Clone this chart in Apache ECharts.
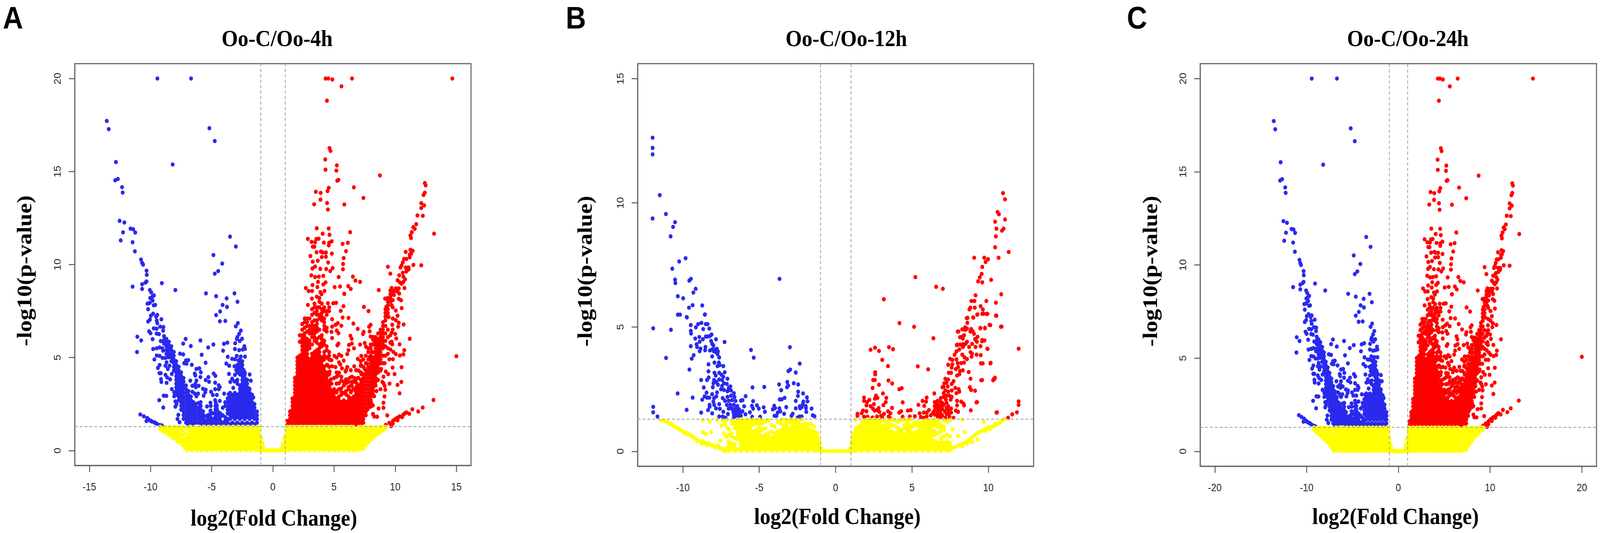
<!DOCTYPE html>
<html>
<head>
<meta charset="utf-8">
<title>Volcano plots</title>
<script src="https://cdn.jsdelivr.net/npm/echarts@6/dist/echarts.min.js"></script>
<style>
  html, body { margin: 0; padding: 0; background: #fff; overflow: hidden; }
  #chart { width: 4562px; height: 1365px; transform-origin: 0 0; }
</style>
</head>
<body>
<div id="chart"></div>
<script>
// tick labels
const xTicksA = [-15, -10, -5, 0, 5, 10, 15];
const xTicksB = [-10, -5, 0, 5, 10];
const xTicksC = [-20, -10, 0, 10, 20];
const yTicksAC = [0, 5, 10, 15, 20];
const yTicksB = [0, 5, 10, 15];
const foldCutoffs = [-1, 1];
const pCutoff = 1.301;

// Oo-4h and Oo-24h show the same genes, only one point moves (see outlier arrays)
// sparse points are [x, y], dense parts are columns [x, y, y, ...]
const blueSparse4h = [[-9.44,20],[-6.69,20],[-13.58,17.72],[-13.42,17.28],[-5.19,17.33],[-4.75,16.64],[-12.83,15.51],[-8.19,15.38],[-12.89,14.53],[-12.67,14.6],[-12.33,14.16],[-12.28,13.87],[-12.53,12.35],[-12.14,12.26],[-11.64,11.93],[-11.42,11.9],[-11.25,11.72],[-12.25,11.73],[-12.44,11.3],[-11.47,11.2],[-11.28,10.71],[-10.78,10.27],[-10.69,10.09],[-10.61,10],[-10.33,9.67],[-10.31,9.45],[-10.33,9.09],[-10.42,9.03],[-10.69,8.94],[-10.69,8.69],[-11.47,8.81],[-9.08,9],[-7.97,8.63],[-3.5,11.5],[-3.03,10.97],[-4.86,10.51],[-4.14,10.05],[-4.47,9.65],[-4.75,9.51],[-5.47,8.45],[-3.14,8.45],[-4.64,8.3],[-3.78,8.18],[-2.89,8],[-4.11,7.83],[-3.75,7.72],[-4.31,7.48],[-4.64,7.28],[-4.33,6.95],[-3.89,6.97],
[-10.06,8.63],[-9.94,8.5],[-9.86,8.27],[-10.03,8.2],[-9.83,8.06],[-9.72,8.34],[-10.25,7.9],[-10.06,7.94],[-9.74,7.81],[-9.62,7.83],[-10.2,7.6],[-9.79,7.36],[-9.98,7.25],[-9.45,7.29],[-9.55,7.2],[-9.12,7.06],[-10.05,7.04],[-10.2,6.94],[-9.5,6.99],[-9.45,6.85],[-9.74,6.57],[-9.5,6.55],[-9.21,6.66],[-8.95,6.64],[-8.97,6.45],[-10.12,6.41],[-10,6.31],[-9.5,6.29],[-9.31,6.26],[-11.08,6.12],[-10.77,5.92],[-11.11,5.3],[-9.83,5.99],
[-7.13,6],[-7.33,5.75],[-6.71,5.62],[-5.92,5.92],[-5.29,5.54],[-4.86,5.7],[-4,5.74],[-3.72,5.8],[-4.07,5.37],[-5.82,5.15],[-5.5,4.72],[-7.59,5.21],[-7.33,5.17],[-6.92,4.86],[-7.11,4.84],[-7.25,4.7],[-7.06,4.67],[-6.63,4.61],[-6.25,4.39],[-6.01,4.42],[-5.89,4.21],[-6.39,4.14],[-6.34,4.04],[-5.92,3.95],[-6.75,3.76],[-6.25,3.76],[-6.34,3.58],[-6.58,3.48],[-6.06,3.48],[-6.3,3.41],[-6.58,3.16],[-6.39,3.06],[-6.11,3.06],[-6.25,2.92],[-5.72,3.32],[-5.49,3.27],[-5.53,3.13],[-5.66,2.95],[-5.5,3.79],[-5.27,3.95],[-5.22,3.7],[-4.84,4.14],[-4.7,4.02],[-4.72,3.65],[-4.43,3.51],[-4.34,3.41],[-4.72,3.3],[-4.43,3.3],[-5.05,3.16],[-4.91,2.99],[-4.58,2.99],[-3.98,3.06],[-5.39,2.37],[-5.1,2.57],[-5.08,2.4],[-4.72,2.71],[-4.34,2.67],[-4.58,2.43],[-4.67,2.57],[-4.58,2.26],[-5.1,2.15],
[-8.93,2.95],[-8.71,2.94],[-9.29,2.71],[-8.96,2.31],[-9.17,4.16],[-9.27,4.16],[-9.15,3.84],[-9.12,3.69],[-8.69,3.64],[-8.78,4.07],[-8.64,3.93],[-8.26,4.12],[-8.4,3.83],[-9.26,4.6],[-9.4,4.44],[-8.69,4.74],[-8.45,4.56],[-8.78,4.56],[-8.59,4.39],[-9.69,4.9],[-9.5,5.11],[-9.26,5.09],[-9.02,4.98],[-8.78,4.98],[-8.54,5.02],[-9.79,5.46],[-9.5,5.5],[-9.26,5.54],[-9.02,5.5],[-8.97,5.37],[-8.59,5.5],[-9.17,5.89],[-8.93,5.82],[-8.26,3.3],[-8.07,3.13],[-8.07,2.92],[-7.97,2.64],[-7.87,2.5],[-7.97,2.36],[-7.73,1.92],[-7.8,1.7],[-7.63,1.52],[-7.06,1.49],
[-10.84,1.94],[-10.55,1.84],[-10.27,1.75],[-10.34,1.59],[-10.07,1.63],[-9.88,1.56],[-9.69,1.52],[-9.5,1.45],[-9.26,1.38],[-9.07,1.35],[-10.17,1.68],[-9.98,1.6],[-9.6,1.48],
[-2.86,6.85],[-3.03,6.68],[-2.62,6.45],[-2.76,6.27],[-2.9,6.1],[-2.95,6],[-2.52,6.01],[-2.71,5.89],[-3.08,5.77],[-2.33,5.61],[-2.28,5.47],[-2.47,5.43],[-2.76,5.4],[-3.1,5.46],[-3.69,5.04],[-2.28,5.05],[-2.95,5.09],[-2.62,5.05],[-3.33,4.93],[-3.1,4.91],[-2.81,4.84],[-3.81,4.68],[-3.57,4.56],[-3.14,4.53],[-3,4.32],[-2.38,4.32],[-2.28,4.18],[-1.9,4.09],[-3.59,4.12],[-3.1,4.07],[-3.33,3.86],[-3.48,3.69],[-3.14,3.72],[-1.8,3.76],[-3.24,3.37],[-1.95,3.34],[-3.62,3.03],[-3.29,2.99],[-1.6,2.86]];
const blueDense4h = [
[-8.9,6.15,5.95,5.75],[-8.7,6,5.8,5.6,5.4,5.2],[-8.5,5.85,5.65,5.45,5.25,5.05],[-8.3,5.6,5.4,5.2,5,4.8],[-8.1,5.3,5.1,4.9,4.7,4.5,4.3],
[-7.9,4.8,4.6,4.4,4.2,4,3.8,3.6,3.4,3.2,3],[-7.7,4.5,4.3,4.1,3.9,3.7,3.5,3.3,3.1,2.9,2.7],[-7.5,4.2,4,3.8,3.6,3.4,3.2,3,2.8,2.6,2.4,2.2],[-7.3,3.9,3.7,3.5,3.3,3.1,2.9,2.7,2.5,2.3,2.1,1.9,1.7],
[-7.1,3.5,3.3,3.1,2.9,2.7,2.5,2.3,2.1,1.9,1.7,1.5],[-6.9,3.2,3,2.8,2.6,2.4,2.2,2,1.8,1.6,1.4],[-6.7,2.9,2.7,2.5,2.3,2.1,1.9,1.7,1.5],[-6.5,2.6,2.4,2.2,2,1.8,1.6,1.42],[-6.3,2.5,2.3,2.1,1.9,1.7,1.5],[-6.1,2.55,2.3,2.1,1.9,1.7,1.5],[-5.9,2.6,2.4,2.2,2,1.8,1.6,1.42],[-5.7,2.1,1.9,1.7,1.5],[-5.5,1.85,1.6,1.42],[-5.3,1.9,1.7,1.5],[-5.1,2,1.8,1.6,1.42],[-4.9,2,1.7,1.5],[-4.7,2.4,2.2,2,1.8,1.6,1.42],[-4.5,2.1,1.9,1.7,1.5],[-4.3,2,1.8,1.6,1.42],[-4.1,2.3,1.9,1.5],[-3.9,2.6,2.4,1.8,1.6,1.42],[-3.7,2.8,2.6,2.4,2.2,2,1.7,1.5],
[-3.5,3.1,2.9,2.7,2.5,2.3,2.1,1.9,1.7,1.42],[-3.3,3,2.8,2.6,2.4,2.2,2,1.8,1.5],[-3.1,3.1,2.9,2.7,2.5,2.3,2.1,1.9,1.7,1.42],
[-2.9,4.6,4.4,4.2,3.8,3.6,3,2.8,2.6,2.4,2.2,2,1.8,1.5],[-2.7,4.9,4.7,4.5,4.3,4.1,3.5,3.3,3.1,2.9,2.7,2.5,2.3,2.1,1.9,1.7,1.42],[-2.5,4.8,4.6,4.4,4.2,4,3.8,3.6,3.4,3.2,3,2.8,2.6,2.4,2.2,2,1.8,1.5],[-2.3,4.1,3.9,3.7,3.5,3.3,3.1,2.9,2.7,2.5,2.3,2.1,1.9,1.7,1.42],[-2.1,3.8,3.6,3.4,3.2,3,2.8,2.6,2.4,2.2,2,1.8,1.5],[-1.9,3.3,3.1,2.9,2.7,2.5,2.3,2.1,1.9,1.7,1.42],[-1.7,3,2.8,2.6,2.4,2.2,2,1.8,1.5],[-1.5,2.5,2.3,2.1,1.9,1.7,1.42],[-1.3,2.1,1.9,1.7,1.5]];

const redSparse4h = [[4.31,20],[4.53,20],[4.86,19.95],[6.47,20],[14.67,20],[5.61,19.58],[4.42,18.81],
[4.63,16.26],[4.71,16.11],[4.28,15.65],[5.23,15.33],[4.3,15.1],[5.19,15.05],[5.36,14.55],[5.26,14.51],[4.57,14.12],[4.47,13.95],[3.51,13.91],[3.91,13.85],[3.89,13.49],[3.37,13.24],[4.43,13.31],[4.5,12.96],[5.84,13.23],[6.62,14.15],[7.4,13.58],[8.75,14.79],
[12.42,14.38],[12.49,14.26],[12.42,13.86],[12.32,13.74],[12.13,13.3],[12.37,13.18],[12.13,13.04],[11.82,12.64],[12.26,12.62],[11.72,12.17],[11.48,12.01],[11.6,11.92],[11.36,11.74],[11.24,11.57],[11.29,11.43],[13.18,11.66],
[3.59,11.95],[4.56,11.94],[4.07,11.66],[4.63,11.6],[6.32,11.74],[2.86,11.38],[3.55,11.37],[3.74,11.39],[3.16,11.22],[3.45,11.2],[4.17,11.18],[4.81,11.25],[4.6,11.17],[4.57,11.03],[3.26,10.96],[3.4,10.96],[5.7,11.11],[6.13,11.17],[5.98,10.72],
[3.57,10.66],[3.93,10.7],[4.34,10.65],[4.82,10.59],[4.07,10.65],[3.07,10.46],[4,10.4],[4.33,10.42],[5.79,10.35],[3.26,10.16],[3.67,10.21],[4.52,10.11],[5.74,10.03],[3.45,9.89],[3.23,9.79],[3.88,9.77],[4.36,9.76],[4.88,9.81],[4.69,9.65],[5.73,9.75],
[3.14,9.42],[3.45,9.33],[3.76,9.35],[4.12,9.39],[5.38,9.33],[6.54,9.35],[6.75,9.14],[7.13,9.07],[3.69,9.07],[4.31,9.04],[3.24,8.9],[4.12,8.93],[3.64,8.79],[2.69,8.74],[5.05,8.79],[5.49,8.82],[6.16,8.84],[6.37,8.69],[8.66,8.63],[2.92,8.58],[3.21,8.58],[4.22,8.58],[3.88,8.52],[5.84,8.42],
[9.4,9.88],[9.6,9.51],[11.49,9.98],[12.13,9.96],[10.86,10.68],[11.24,10.79],[11.43,10.74],[11.19,10.54],[11.3,10.58],[11.19,10.39],[10.72,10.3],[10.91,10.3],[10.62,10.12],[10.52,9.95],[10.43,9.84],[10.86,9.84],[11.1,9.84],[11.1,9.74],[10.91,9.63],[10.62,9.56],[10.33,9.42],[10.67,9.35],[10.81,9.21],[10.19,9.16],[10.67,9.07],[10.38,9.04],[10.52,8.97],[10.76,8.74],[10.29,8.72],[10.05,8.72],[9.71,8.74],[9.9,8.55],[10.19,8.55],[9.71,8.38],
[2.86,7.83],[3.19,8.17],[3.59,8.27],[3.98,8.41],[5.84,8.43],[4.5,7.92],[4.93,7.92],[5.17,7.94],[5.77,7.76],[5.55,7.51],[5.7,7.15],[6.18,7.13],[4.84,7.06],[5.31,6.85],[5.6,6.71],[5.12,6.76],[4.84,6.66],[6.58,6.83],[6.94,6.54],[5.22,6.45],[5.36,6.31],[4.79,6.38],[4.84,6.05],[7.44,7.72],[7.82,7.5],[9.17,8.17],[9.28,7.74],[10.48,8.08],[10.53,7.66],[10.69,6.78],[7.99,6.76],[7.87,6.66],[7.91,6.41],[7.42,6.38],[7.37,6.27],[11.19,6.01],[6.34,6.17],[6.44,6.01],[7.99,6.13],[8.18,5.96],[7.51,5.78],[7.61,5.58],[7.13,5.7],[8.28,5.75],[5.36,5.75],[5.27,5.66],[6.22,5.68],[6.46,5.75],[6.63,5.5],[6.18,5.4],[6.08,5.19],[10.36,5.71],[10.74,5.4],[10.67,5.17],[10.38,5.11],[7.23,5.09],[6.94,4.93],[7.18,4.81],[7.18,4.56],[9.79,4.46],[10.52,4.48],[9.95,4.11],[10.5,3.69],[10.19,3.53],[9.54,3.6],[10.36,3.08],[9.12,2.91],[9.04,2.57],[8.64,2.26],[9.04,2.3],[9.35,1.89],[8.52,1.82],[13.13,2.72],[12.25,2.31],[11.88,2.1],[11.4,2.22],
[11.15,1.98],[10.91,2.05],[10.67,1.94],[10.38,1.84],[10.09,1.73],[9.81,1.59],[9.52,1.49],[9.23,1.38],[9.66,1.31],[9.81,1.45],[10.19,1.63],[10.57,1.8],[10.8,2],[10.25,1.78],[9.95,1.66],
[5.41,5.16],[5.6,5.09],[5.79,4.84],[5.03,5.09],[4.79,4.86],[5.51,4.63],[4.84,4.53],[5.12,4.49],[5.65,4.42],[5.94,4.25],[6.08,4.49],[6.37,4.32],[6.65,4.53],[6.8,4.32],[5.31,4.04],[5.6,3.97],[4.74,3.83],[5.98,3.83],[6.46,3.97],[6.65,3.9],[5.79,3.69],[6.18,3.69],[6.46,3.69],[6.84,3.62],[5.41,3.62],[4.65,3.34],[5.6,3.34],[6.18,3.41],[6.46,3.48],
[4.65,4.88],[4.45,4.6],[4.65,4.25],[4.45,4.04],[4.6,3.48],[5.22,5],[5.41,4.74],[5.98,4.32],[5.41,4.18],[5.22,3.97],[5.6,3.76],[5.98,3.62],[6.27,3.9],[6.37,3.48],[6.75,3.76],[6.94,3.9],[7.23,4.11],[7.51,4.39],[7.7,4.67],[7.9,5.02],[8.09,5.3],[7.32,3.48],[7.04,3.34],[6.75,3.2],[6.37,3.13],[5.98,3.2],[5.6,3.13],[5.22,3.13],[4.84,3],[4.45,2.99],
[9.04,3.62],[9.14,3.48],[9.19,3.27],[8.8,3.3],[8.95,3.69],[8.47,3.2],[8.28,2.92],[8.04,2.57],[8.18,2.43],[7.99,2.36],[8.18,1.97],[8.28,1.83],[7.75,2.22],[9.04,3.97],[9.23,4.25],[9.43,4.11],[8.85,4.39],[9.14,4.7],[9.52,4.91],[9.81,4.91],[9.71,5.85],[9.76,5.71],[10.09,6.03],[9.62,5.43],[9.86,5.3],[10.05,5.19],[9.71,6.34],[10,6.27],[10.05,7.01],[10.29,6.87],[10.24,6.66],[10.05,7.53],[10.19,7.25],[10.29,8.16],[9.76,6.76],[9.47,7.18],[9.71,7.81],[9.8,8.09],[9.9,8.37],[10.33,8.44]];
const redDense4h = [
[1.2,1.4,1.6],[1.4,1.5,1.7,1.9,2.1],[1.6,1.4,1.6,1.8,2,2.2,2.4,2.6,2.8],[1.8,1.5,1.7,1.9,2.1,2.3,2.5,2.7,2.9,3.1,3.3,3.5,3.7,3.9],
[2,1.4,1.6,1.8,2,2.2,2.4,2.6,2.8,3,3.2,3.4,3.6,3.8,4,4.2,4.4,4.6,4.8,5],
[2.2,1.5,1.7,1.9,2.1,2.3,2.5,2.7,2.9,3.1,3.3,3.5,3.7,3.9,4.1,4.3,4.5,4.7,4.9,5.1,5.85,6.2],
[2.4,1.4,1.6,1.8,2,2.2,2.4,2.6,2.8,3,3.2,3.4,3.6,3.8,4,4.2,4.4,4.6,4.8,5,5.2,5.4,5.6,5.8,6,6.2,6.5,6.8],
[2.6,1.5,1.7,1.9,2.1,2.3,2.5,2.7,2.9,3.1,3.3,3.5,3.7,3.9,4.1,4.3,4.5,4.7,4.9,5.1,5.3,5.5,5.7,5.9,6.1,6.3,6.6,6.9,7.1],
[2.8,1.4,1.6,1.8,2,2.2,2.4,2.6,2.8,3,3.2,3.4,3.6,3.8,4,4.2,4.4,4.6,4.8,5,5.2,5.4,5.6,5.8,6,6.4,6.7,6.9,7.1],
[3,1.5,1.7,1.9,2.1,2.3,2.5,2.7,2.9,3.1,3.3,3.5,3.7,3.9,4.1,4.3,4.5,4.7,4.9,5.5,5.7,5.9,6.3,6.5,6.7,7.1],
[3.2,1.4,1.6,1.8,2,2.2,2.4,2.6,2.8,3,3.2,3.4,3.6,3.8,4,4.2,4.4,4.6,4.8,5,5.2,5.7,6.1,6.3,6.5,6.7,6.9,7.3,7.6],
[3.4,1.5,1.7,1.9,2.1,2.3,2.5,2.7,2.9,3.1,3.3,3.5,3.7,3.9,4.1,4.3,4.5,4.7,4.9,5.1,5.3,5.9,6.1,6.3,6.5,6.7,7,7.4,7.7,7.9],
[3.6,1.4,1.6,1.8,2,2.2,2.4,2.6,2.8,3,3.2,3.4,3.6,3.8,4,4.2,4.4,4.6,4.8,5,5.2,5.4,5.8,6,6.4,6.6,6.8,7,7.3,7.5,7.7],
[3.8,1.5,1.7,1.9,2.1,2.3,2.5,2.7,2.9,3.1,3.3,3.5,3.7,3.9,4.1,4.3,4.5,4.7,4.9,5.1,5.3,5.5,5.7,6.1,6.5,7.1,7.3,7.7,8,8.2],
[4,1.4,1.6,1.8,2,2.2,2.4,2.6,2.8,3,3.2,3.4,3.6,3.8,4,4.2,4.4,4.6,4.8,5,5.6,5.8,6,6.2,7,7.2,7.4,7.6,7.9],
[4.2,1.5,1.7,1.9,2.1,2.3,2.5,2.7,2.9,3.1,3.3,3.5,3.7,3.9,4.1,4.3,4.5,4.9,5.1,5.3,5.7,5.9,6.5,6.7,6.9,7.1,7.5,7.7],
[4.4,1.4,1.6,1.8,2,2.2,2.4,2.6,2.8,3,3.2,3.4,3.6,3.8,4,4.2,4.6,5,5.4,5.6,6.4,6.6,7.3,7.5],
[4.6,1.5,1.7,1.9,2.1,2.3,2.5,2.7,2.9,3.1,3.3,3.5,3.7,4.1,4.5,4.9,5.1,5.3,7.5,7.7],
[4.8,1.4,1.6,1.8,2,2.2,2.4,2.6,2.8,3,3.2,3.6],[5,1.5,1.7,1.9,2.1,2.3,2.5,2.7,2.9,3.1,3.3,3.9],[5.2,1.4,1.6,1.8,2,2.2,2.4,2.6,2.8,3.2,3.6,4.2],[5.4,1.5,1.7,1.9,2.1,2.3,2.5,2.7,2.9,3.3],[5.6,1.4,1.6,1.8,2,2.2,2.4,2.6,3],[5.8,1.5,1.7,1.9,2.1,2.3,2.5,2.7,3.1,3.5],[6,1.4,1.6,1.8,2,2.2,2.4,2.6,3],[6.2,1.5,1.7,1.9,2.1,2.3,2.5,2.7,2.9,3.3],[6.4,1.4,1.6,1.8,2,2.2,2.4,2.6,2.8,3.2],[6.6,1.5,1.7,1.9,2.1,2.3,2.5,2.7,2.9,3.3,3.7],[6.8,1.4,1.6,1.8,2,2.2,2.4,2.6,2.8,3,3.4],
[7,1.5,1.7,1.9,2.1,2.3,2.5,2.7,2.9,3.1,3.3,3.5,3.9,4.3],[7.2,1.4,1.6,1.8,2,2.2,2.4,2.6,2.8,3,3.2,3.4,3.6,3.8,4.2,4.6],[7.4,1.5,1.7,1.9,2.1,2.3,2.5,2.7,2.9,3.1,3.3,3.5,3.7,3.9,4.1,4.5,4.9],[7.6,1.9,2.1,2.3,2.5,2.7,2.9,3.1,3.3,3.5,3.7,3.9,4.1,4.3,4.7,5.1],[7.8,2.3,2.5,2.7,2.9,3.1,3.3,3.5,3.7,3.9,4.1,4.3,4.5,4.9,5.3,5.5],[8,2.5,2.7,2.9,3.1,3.3,3.5,3.7,3.9,4.1,4.3,4.5,4.7,4.9,5.1,5.5,5.7],[8.2,3,3.2,3.4,3.6,3.8,4,4.2,4.4,4.6,4.8,5,5.3,5.7,6.1],[8.4,3.5,3.7,3.9,4.1,4.3,4.5,4.7,4.9,5.1,5.3,5.5,5.7,5.9,6.1],[8.6,3.8,4.2,4.4,4.6,4.8,5,5.2,5.4,5.6,5.8,6,6.3],[8.8,4.3,4.7,4.9,5.1,5.3,5.5,5.7,5.9,6.1,6.3,6.5],[9,4.7,5.1,5.5,5.7,5.9,6.1,6.3,6.5,6.7,6.9],[9.2,5.1,5.6,5.9,6.3,6.7,7,7.2,7.4,7.6],[9.4,5.2,5.5,6.1,6.5,7.2,7.4,7.6,7.8,8,8.2],[9.6,5.8,6.2,8,8.2,8.4,8.6],[9.8,6.5,7.1,7.7,8.4,8.6]];

const redOutlierA = [[15, 5.07]];
const redOutlierC = [[20, 5.07]];

const yellow4h = [
[-9.2,1.15,1.28],[-9,1.05,1.2],[-8.8,1,1.15,1.28],[-8.6,0.9,1.05,1.2],[-8.4,0.8,0.95,1.1,1.28],[-8.2,0.7,0.85,1,1.2],[-8,0.65,0.8,0.95,1.1,1.28],[-7.8,0.5,0.65,0.8,0.95,1.1,1.25],[-7.6,0.45,0.6,0.75,0.9,1.15],[-7.4,0.3,0.45,0.6,0.85,1.1,1.28],[-7.2,0.15,0.3,0.45,0.65,0.95,1.2],
[-7,0.02,0.2,0.4,0.6,0.8,1.2],[-6.8,0.1,0.3,0.5,0.7,0.9,1.1,1.28],[-6.6,0.02,0.2,0.4,0.6,0.8,1,1.2],[-6.4,0.1,0.3,0.5,0.7,0.9,1.1,1.28],[-6.2,0.02,0.2,0.4,0.6,0.8,1,1.2],[-6,0.1,0.3,0.5,0.7,0.9,1.1,1.28],[-5.8,0.02,0.2,0.4,0.6,0.8,1,1.2],[-5.6,0.1,0.3,0.5,0.7,0.9,1.1,1.28],[-5.4,0.02,0.2,0.4,0.6,0.8,1,1.2],[-5.2,0.1,0.3,0.5,0.7,0.9,1.1,1.28],[-5,0.02,0.2,0.4,0.6,0.8,1,1.2],[-4.8,0.1,0.3,0.5,0.7,0.9,1.1,1.28],[-4.6,0.02,0.2,0.4,0.6,0.8,1,1.2],[-4.4,0.1,0.3,0.5,0.7,0.9,1.1,1.28],[-4.2,0.02,0.2,0.4,0.6,0.8,1,1.2],[-4,0.1,0.3,0.5,0.7,0.9,1.1,1.28],[-3.8,0.02,0.2,0.4,0.6,0.8,1,1.2],[-3.6,0.1,0.3,0.5,0.7,0.9,1.1,1.28],[-3.4,0.02,0.2,0.4,0.6,0.8,1,1.2],[-3.2,0.1,0.3,0.5,0.7,0.9,1.1,1.28],[-3,0.02,0.2,0.4,0.6,0.8,1,1.2],[-2.8,0.1,0.3,0.5,0.7,0.9,1.1,1.28],[-2.6,0.02,0.2,0.4,0.6,0.8,1,1.2],[-2.4,0.1,0.3,0.5,0.7,0.9,1.1,1.28],[-2.2,0.02,0.2,0.4,0.6,0.8,1,1.2],[-2,0.1,0.3,0.5,0.7,0.9,1.1,1.28],[-1.8,0.02,0.2,0.4,0.6,0.8,1,1.2],[-1.6,0.1,0.3,0.5,0.7,0.9,1.1,1.28],[-1.4,0.02,0.2,0.4,0.6,0.8,1,1.2],[-1.2,0.1,0.3,0.5,0.7,0.9,1.1,1.28],[-1.05,0.02,0.2,0.4,0.6,0.8,1.2],[-0.95,0.02,0.2,0.4,0.65],[-0.85,0.02,0.2,0.38],[-0.75,0.02,0.15],[-0.6,0.01],[-0.45,0.01],[-0.3,0.01],[-0.15,0.01],[0,0.01],[0.15,0.01],[0.3,0.01],[0.45,0.01],[0.6,0.01],[0.72,0.02,0.12],[0.82,0.02,0.2,0.35],[0.92,0.02,0.2,0.4,0.65],[1.05,0.02,0.2,0.4,0.6,0.8,1.2],
[1.2,0.1,0.3,0.5,0.7,0.9,1.1,1.28],[1.4,0.02,0.2,0.4,0.6,0.8,1,1.2],[1.6,0.1,0.3,0.5,0.7,0.9,1.1,1.28],[1.8,0.02,0.2,0.4,0.6,0.8,1,1.2],[2,0.1,0.3,0.5,0.7,0.9,1.1,1.28],[2.2,0.02,0.2,0.4,0.6,0.8,1,1.2],[2.4,0.1,0.3,0.5,0.7,0.9,1.1,1.28],[2.6,0.02,0.2,0.4,0.6,0.8,1,1.2],[2.8,0.1,0.3,0.5,0.7,0.9,1.1,1.28],[3,0.02,0.2,0.4,0.6,0.8,1,1.2],[3.2,0.1,0.3,0.5,0.7,0.9,1.1,1.28],[3.4,0.02,0.2,0.4,0.6,0.8,1,1.2],[3.6,0.1,0.3,0.5,0.7,0.9,1.1,1.28],[3.8,0.02,0.2,0.4,0.6,0.8,1,1.2],[4,0.1,0.3,0.5,0.7,0.9,1.1,1.28],[4.2,0.02,0.2,0.4,0.6,0.8,1,1.2],[4.4,0.1,0.3,0.5,0.7,0.9,1.1,1.28],[4.6,0.02,0.2,0.4,0.6,0.8,1,1.2],[4.8,0.1,0.3,0.5,0.7,0.9,1.1,1.28],[5,0.02,0.2,0.4,0.6,0.8,1,1.2],[5.2,0.1,0.3,0.5,0.7,0.9,1.1,1.28],[5.4,0.02,0.2,0.4,0.6,0.8,1,1.2],[5.6,0.1,0.3,0.5,0.7,0.9,1.1,1.28],[5.8,0.02,0.2,0.4,0.6,0.8,1,1.2],[6,0.1,0.3,0.5,0.7,0.9,1.1,1.28],[6.2,0.02,0.2,0.4,0.6,0.8,1,1.2],[6.4,0.1,0.3,0.5,0.7,0.9,1.15,1.28],[6.6,0.02,0.2,0.4,0.6,0.8,1,1.25],[6.8,0.04,0.3,0.5,0.7,0.85,1.1],[7,0.06,0.2,0.4,0.6,0.8,1,1.2],[7.2,0.08,0.3,0.5,0.7,0.9,1.1,1.28],[7.4,0.1,0.25,0.4,0.6,0.8,1,1.2],
[7.6,0.3,0.45,0.65,0.9,1.1,1.28],[7.8,0.45,0.6,0.75,0.95,1.2],[8,0.55,0.7,0.85,1,1.15,1.28],[8.2,0.7,0.85,1,1.2],[8.4,0.8,0.95,1.1,1.25],[8.6,0.9,1.05,1.2],[8.8,1,1.15,1.28],[9,1.1,1.25],[9.2,1.2,1.28]];

// Oo-12h
const blueSparse12h = [[-11.98,12.62],[-11.98,12.21],[-11.98,11.95],[-11.51,10.31],[-11.98,9.37],[-11.11,9.55],[-10.51,9.22],[-10.64,9.03],[-10.8,8.65],[-9.82,7.77],[-10.24,7.64],[-10.69,7.35],[-3.67,6.94],[-10.51,6.91],[-10.49,6.77],[-9.47,6.94],[-9.58,6.87],[-9.16,6.54],[-9.31,6.39],[-10.33,6.24],[-9.98,6.16],[-8.73,5.87],[-9.36,5.88],[-9.6,5.78],[-8.56,5.5],[-10.33,5.5],[-10.18,5.5],[-9.73,5.39],
[-11.94,4.95],[-10.78,4.89],[-11.1,3.76],[-9.57,3.29],[-10.34,2.33],[-9.36,2.16],[-9.75,1.67],[-11.66,1.4],[-11.94,1.79],[-11.94,1.57],[-9.75,5.4],[-8.55,5.51],
[-9.48,5.08],[-9,5.12],[-8.78,5.17],[-8.5,5.12],[-8.38,5.12],[-9.15,4.99],[-8.67,4.92],[-8.27,4.94],[-9.48,4.85],[-9.46,4.74],[-8.12,4.7],[-8.23,4.64],[-8.38,4.62],[-8.5,4.62],[-9.19,4.54],[-8.92,4.6],[-8.69,4.51],[-8.9,4.41],[-7.83,4.51],[-7.27,4.4],[-8.15,4.44],[-8.08,4.33],[-8,4.26],[-9.1,4.31],[-9.07,4.2],[-9.48,4.23],[-8.52,4.2],[-8.84,4.13],[-8.54,4.07],[-8.9,4.03],[-8.23,4.06],[-8.08,4.1],[-7.93,4.1],[-7.77,4.12],[-7.96,4.02],[-7.81,3.99],[-7.7,4.02],[-7.73,3.91],[-7.62,3.78],[-8.08,3.82],[-9.29,3.87],[-9.42,3.73],
[-7.93,3.57],[-7.64,3.57],[-7.58,3.47],[-7.73,3.43],[-7.35,3.43],[-8.32,3.5],[-8.32,3.22],[-7.93,3.16],[-7.62,3.16],[-7.26,3.18],[-7.85,3.05],[-7.47,3.08],[-7.35,3],[-7.08,2.92],[-8.31,2.97],[-8.42,2.87],[-8.8,2.87],[-7.96,2.87],[-7.62,2.89],[-7.43,2.87],[-8,2.74],[-7.81,2.79],[-7.7,2.68],[-7.31,2.74],[-7.12,2.71],[-6.89,2.61],[-7,2.55],[-8.04,2.58],[-8.63,2.57],[-7.43,2.63],[-7.5,2.5],[-7.31,2.47],[-7.08,2.42],[-6.85,2.45],[-6.66,2.34],[-8.45,2.36],[-8.58,2.21],[-8.42,2.16],[-8.27,2.16],[-7.76,2.37],[-8.08,2.3],[-7.81,2.21],[-7.96,2.14],[-8.73,2.08],[-7.39,2.14],[-7.08,2.19],[-6.85,2.24],[-6.62,2.19],[-7.24,2.03],[-7,2.03],[-6.78,2.06],[-6.55,2.03],[-8,2],[-8.25,1.87],[-8.25,1.79],[-7.95,1.87],[-7.62,1.9],[-7.12,1.87],[-6.89,1.87],[-6.66,1.87],[-6.43,1.82],[-8.35,1.66],[-7.83,1.73],[-7.58,1.71],[-7,1.72],[-6.78,1.72],[-6.55,1.72],[-6.32,1.69],[-8.8,1.56],[-8.08,1.53],[-7.35,1.59],[-7.05,1.5],[-6.7,1.59],[-6.47,1.56],[-6.24,1.56],[-6.66,1.48],[-6.43,1.45],[-6.2,1.43],[-7.62,1.4],[-7.39,1.4],[-7.2,1.35],[-6.66,1.38],[-6.9,1.75],[-6.6,1.6],[-6.4,1.65],[-6.3,1.42],[-6.55,1.42],
[-5.89,2.22],[-6.09,2.06],[-6.2,2.04],[-5.99,1.81],[-6.1,1.61],[-5.9,1.49],[-5.61,1.57],[-5.46,1.39],[-5.4,2.02],[-5.44,2.57],[-5.54,4.08],[-5.36,3.77],[-4.67,2.59],[-5.48,1.83],[-5.4,1.72],[-5.15,1.85],[-5.03,1.72],[-4.71,1.77],[-4.63,1.59],[-4.94,1.39],[-4.02,1.83],[-4.11,1.69],[-3.96,1.74],[-4,1.43],[-3.87,1.43],[-3.79,1.56],[-3.68,1.73],[-3.62,1.61],[-3.37,1.51],[-3.7,2.69],[-3.56,2.46],[-3.66,2.09],[-3.53,2.09],[-3.34,2.15],[-3.23,1.78],[-3.16,2.79],[-3.1,2.65],[-3.18,2.58],[-2.99,4.19],[-3.09,3.23],[-2.97,3.29],[-2.61,3.17],[-2.35,3.53],[-2.74,2.74],[-2.45,2.69],[-2.45,2.4],[-2.47,2.23],[-2.13,2.33],[-2.61,2.03],[-1.88,2.17],[-1.84,2.01],[-2.11,2],[-2.15,1.9],[-2.35,1.81],[-2.22,1.78],[-1.96,1.82],[-2.61,1.73],[-2.32,1.73],[-1.94,1.74],[-1.92,1.59],[-1.57,1.72],[-2.81,1.51],[-2.89,1.43],[-2.49,1.36],[-2.35,1.4],[-2.22,1.4],[-1.5,1.45],[-1.38,1.41]];

const redSparse12h = [[10.96,10.39],[11.09,10.14],[10.6,9.63],[10.69,9.54],[11.09,9.33],[10.44,9.24],[11,8.96],[10.53,8.96],[10.89,8.88],[10.49,8.65],[10.44,8.21],[11.33,8.02],[9.07,7.79],[9.73,7.79],[9.98,7.73],[10.67,7.79],[9.6,7.42],[9.82,7.62],[9.56,7.14],[9.44,7],[9.33,6.84],[9.6,6.8],[10.18,6.9],[10.84,6.32],[9.16,6.28],[8.89,6.05],[9.09,6.05],[9.87,6.05],[10.49,5.98],[8.82,5.78],[9.11,5.78],[8.76,5.71],[9.49,5.84],[9.64,5.71],[9.6,5.53],[9.87,5.53],[9,5.39],[9.27,5.5],[10.49,5.46],[8.58,5.36],[10.07,5.09],[10.82,5.01],[9.47,4.95],[9.78,4.95],
[5.22,7.01],[6.58,6.62],[7.02,6.54],[3.16,6.12],[11.98,4.13],[11.98,2.01],[11.98,1.87],[11.87,1.57],[11.56,1.49],[10.53,1.56],[11.29,1.35],[10.42,2.93],[10.31,2.86],[9.22,1.97],[9.53,2.86],[10.13,3.54],[9.51,3.54],
[8.49,4.89],[8.04,4.82],[8.27,4.61],[8.82,4.82],[8.6,4.41],[9.16,4.48],[7.93,4.27],[8.38,4.27],[9.16,4.2],[9.6,4.48],[9.93,4.13],[8.93,3.93],
[4.18,5.16],[5.14,5.01],[6.4,4.55],[2.29,4.09],[2.58,4.17],[2.84,4.04],[3.49,4.19],[3.76,4.11],[3.05,3.68],[3.43,3.43],[5.38,3.42],[6.06,3.3],[2.59,3.18],[2.59,3.1],[2.46,2.87],[2.57,2.87],[2.84,2.68],[3.46,2.85],[3.7,2.73],[2.42,2.55],[4.17,2.5],[4.33,2.54],[3.1,2.33],[2.64,2.24],[2.74,2.15],[2.57,2.12],[1.86,2.16],[1.86,2.03],[2.21,2.07],[2.06,1.98],[3.32,2.15],[3.28,1.98],[4.39,1.97],[3.13,1.86],[2.29,1.82],[2.02,1.85],[2.51,1.9],[2.44,1.72],[3.69,1.75],[2.82,1.74],[2.71,1.66],[1.79,1.64],[2.02,1.61],[1.71,1.54],[2.55,1.64],[2.86,1.59],[3.43,1.61],[3.59,1.53],[1.43,1.51],[1.43,1.43],[1.86,1.39],[2.09,1.39],[2.42,1.36],[2.71,1.4],[2.97,1.43],[3.17,1.51],[3.05,1.38],[3.47,1.4],[3.62,1.32],[4.16,1.56],[4.29,1.61],[4.39,1.39],[4.73,1.64],[4.92,1.66],[4.86,1.4],[5.19,1.41],[5.42,1.87],[5.69,2.03],[5.96,2.16],[5.92,2],[5.8,1.83],[5.77,1.56],[5.5,1.53],[5.58,1.38],[5.77,1.35],[5.96,1.56],[6.11,1.66],[5.96,1.4],[6.46,2.33],
[6.23,1.45],[6.38,1.56],[6.49,1.98],[6.49,1.82],[6.49,1.66],[6.49,1.48],[6.68,2.03],[6.68,1.87],[6.68,1.72],[6.68,1.56],[6.68,1.4],[6.88,2.14],[6.88,1.98],[6.88,1.82],[6.88,1.66],[6.88,1.51],[6.88,1.38],[7.07,2.19],[7.07,2.34],[7.07,2.6],[7.18,2.92],[7.26,2.76],[7.34,2.61],[7.18,2.45],[7.37,2.4],[7.26,2.24],[7.45,2.24],[7.6,2.19],[7.22,2.08],[7.53,2.08],[7.07,1.87],[7.37,1.82],[7.37,1.66],[7.56,1.72],[7.14,1.61],[7.37,1.51],[7.56,1.56],[7.18,1.35],[7.45,1.4],[7.72,1.35],[7.11,2.74],[6.99,2.58],[7.37,2.89],[7.72,2.82],[7.6,2.71],[7.83,2.55],[8.06,2.5],[8.1,2.4],[7.91,2.34],[7.6,2.45],[7.95,2.03],[8.22,2],[8.37,1.92],[8.41,1.85],[7.95,1.85],[7.87,1.64],[8.02,1.59],[8.85,1.65],[9.26,1.98],[10.57,1.57],[8.79,2.58],[8.87,2.47],[9.13,2.44],[8.83,2.92],[8.71,3.19],[9.59,2.87],[10.36,2.91],[10.43,2.96],[6.6,1.8],[6.6,1.95],[6.78,1.48],[6.78,1.64],[6.78,1.8],[6.98,1.45],[6.98,1.72],[6.98,1.95],[7.26,1.5],[7.26,1.75],[7.26,1.95],
[7.49,3.72],[7.64,3.68],[7.37,3.48],[7.64,3.5],[7.91,3.7],[7.99,3.55],[8.22,3.55],[8.41,3.57],[7.41,3.16],[7.56,3.16],[7.6,3.37],[7.87,3.31],[8.02,3.39],[8.14,3.23],[8.33,3.26],[7.95,3.05],[8.1,3.1],[7.79,3.89],[7.91,4.02],[8.1,4.1],[7.95,4.29],[8.14,4.29],[8.33,4.31],[8.52,4.33],[8.74,4.2],[8.94,4.32],[8.33,4.2],[8.29,3.89],[8.44,3.78],[8.6,3.71],[8.83,3.99],[8.9,3.81],[9.23,3.89],[9.5,3.87],[9.63,3.54],[10.15,3.56],[9.95,4.12],[9.49,4.23],[7.99,4.82],[8.14,4.59],[8.41,4.67],[8.33,4.54],[8.29,4.91],[8.48,4.99],[8.6,4.94],[8.87,4.92],[8.98,4.83],[9.06,4.73],[9.29,4.61],[9.13,4.52],[9.25,4.41],[9.59,4.43],[9.75,4.46],[9.48,4.97],[9.77,4.97],[10.13,5.08],[10.87,5.02],[8.62,5.17],[8.64,5.37],[9.02,5.38],[9.29,5.51],[9.67,5.54],[9.94,5.53],[10.53,5.46]];

const yellowSparse12h = [[-11.44,1.24],[-11.2,1.23],[-11.05,1.18],[-10.9,1.14],[-10.78,1.1],[-10.68,1.06],[-10.55,1],[-10.41,0.96],[-10.28,0.9],[-10.14,0.85],[-9.99,0.8],[-9.76,0.75],[-9.88,0.72],[-9.65,0.68],[-9.53,0.67],[-9.43,0.6],[-9.34,0.59],[-9.25,0.52],[-9.15,0.51],[-9.07,0.41],[-8.95,0.42],[-8.77,0.3],[-8.69,0.41],[-8.55,0.33],[-8.42,0.25],[-8.31,0.33],[-8.2,0.26],[-8.08,0.25],[-7.95,0.2],[-7.85,0.17],[-7.7,0.25],[-7.6,0.13],[-7.47,0.12],[-7.35,0.04],[-7.24,0.01],[-7.31,0.07],[-7.08,0.15],[-7.54,0.43],[-8.69,0.77],[-8.5,0.69],[-8.15,0.77],[-8.69,1.26],[-8.25,1.2],[-7.76,1.27],[-7.47,1.03],[-7.31,0.72],[-7.16,0.59],[-6.97,0.88],[-7.39,1.24],[-7.24,1.09],[-7.1,0.95],[-7.15,1.25],
[7.66,0.88],[8.02,0.62],[8.44,0.77],[8.29,1.27],[9.71,1.19],[9.29,0.48],[8.94,0.38],[8.29,0.2],[7.68,0.15],[7.85,0.18],[7.98,0.22],[8.18,0.28],[8.37,0.33],[8.55,0.4],[8.75,0.48],[8.9,0.55],[9.06,0.62],[9.2,0.68],[9.36,0.75],[9.5,0.8],[9.67,0.85],[9.82,0.83],[9.97,0.96],[10.2,0.98],[10.4,1.02],[10.59,1.09],[10.72,1.13],[10.82,1.19],[10.95,1.24],[11.05,1.3],[9.85,0.92],[10.1,0.9],[10.45,1.12],[8.6,0.3],[8.78,0.4]];
const yellowDense12h = [
[-7,0.02,0.15,0.28,0.41,0.67],[-6.8,0.08,0.21,0.34,0.6,0.73,1.12,1.25],[-6.6,0.02,0.15,0.28,0.54,0.93,1.06,1.19],[-6.4,0.08,0.47,0.6,0.73,0.86,0.99,1.12,1.25],[-6.2,0.02,0.15,0.28,0.41,0.54,0.67,0.8,0.93,1.06,1.19,1.28],
[-6,0.08,0.21,0.34,0.47,0.6,0.73,0.86,0.99,1.12,1.25],[-5.8,0.02,0.15,0.28,0.41,0.54,0.67,0.8,0.93,1.06,1.19,1.28],[-5.6,0.08,0.21,0.34,0.47,0.6,0.73,0.86,0.99,1.12,1.25],[-5.4,0.02,0.15,0.28,0.41,0.54,0.67,0.8,1.06,1.19,1.28],[-5.2,0.08,0.21,0.34,0.47,0.6,0.73,0.86,1.12,1.25],[-5,0.02,0.15,0.28,0.41,0.54,0.67,0.8,0.93,1.06,1.19,1.28],[-4.8,0.08,0.21,0.34,0.47,0.6,0.86,1.12,1.25],[-4.6,0.02,0.15,0.28,0.41,0.54,0.67,0.93,1.19],[-4.4,0.08,0.21,0.34,0.47,0.6,0.73,1.25],[-4.2,0.02,0.15,0.28,0.41,0.54,0.8,1.06],[-4,0.08,0.21,0.34,0.47,0.6,0.73,0.99],[-3.8,0.02,0.15,0.28,0.41,0.54,0.67,0.8,1.19],[-3.6,0.08,0.21,0.34,0.47,0.6,0.73,0.86,1.12,1.25],[-3.4,0.02,0.15,0.28,0.41,0.54,0.67,0.8,0.93,1.06,1.28],[-3.2,0.08,0.21,0.34,0.47,0.6,0.73,0.86,0.99,1.12,1.25],[-3,0.02,0.15,0.28,0.41,0.54,0.67,0.8,0.93,1.19,1.28],[-2.8,0.08,0.21,0.34,0.47,0.6,0.73,0.86,0.99,1.12,1.25],[-2.6,0.02,0.15,0.28,0.41,0.54,0.67,0.8,0.93,1.06,1.19,1.28],[-2.4,0.08,0.21,0.34,0.47,0.6,0.73,0.86,0.99,1.12,1.25],[-2.2,0.02,0.15,0.28,0.41,0.54,0.67,0.8,0.93,1.06,1.28],[-2,0.08,0.21,0.34,0.47,0.6,0.73,0.86,0.99,1.12],[-1.8,0.02,0.15,0.28,0.41,0.54,0.67,0.8,0.93,1.06],[-1.6,0.08,0.21,0.34,0.47,0.6,0.73,0.86,1.1],[-1.4,0.02,0.15,0.28,0.41,0.54,0.67,0.8,1],[-1.2,0.03,0.18,0.31,0.47,0.6,0.73],[-1.05,0.02,0.15,0.3,0.42],[-0.95,0.01,0.12],[-0.8,0.01],[-0.6,0.01],[-0.4,0.01],[-0.2,0.01],[0,0.01],[0.2,0.01],[0.4,0.01],[0.6,0.01],[0.8,0.01],[0.95,0.01,0.12],[1.05,0.02,0.15,0.3,0.42],[1.15,0.03,0.18,0.31,0.47,0.6,0.72],[1.3,0.02,0.15,0.28,0.41,0.54,0.67,0.8,0.93,1.27],
[1.5,0.08,0.21,0.34,0.47,0.6,0.73,0.86,1],[1.7,0.02,0.15,0.28,0.41,0.54,0.67,0.8,0.93,1.06,1.19],[1.9,0.08,0.21,0.34,0.47,0.6,0.73,0.86,0.99,1.12,1.25],[2.1,0.02,0.15,0.28,0.41,0.54,0.67,0.8,0.93,1.06,1.19,1.28],[2.3,0.08,0.21,0.34,0.47,0.6,0.73,0.86,0.99,1.12,1.25],[2.5,0.02,0.15,0.28,0.41,0.54,0.67,0.8,0.93,1.06,1.19,1.28],[2.7,0.08,0.21,0.34,0.47,0.6,0.73,0.86,0.99,1.12,1.25],[2.9,0.02,0.15,0.28,0.41,0.54,0.67,0.8,0.93,1.06,1.19],[3.1,0.08,0.21,0.34,0.47,0.6,0.73,0.86,0.99,1.25],[3.3,0.02,0.15,0.28,0.41,0.54,0.67,0.8,0.93,1.06,1.19],[3.5,0.08,0.21,0.34,0.47,0.6,0.73,0.86,0.99,1.12,1.25],[3.7,0.02,0.15,0.28,0.41,0.54,0.67,0.8,1.06,1.28],[3.9,0.08,0.21,0.34,0.47,0.6,0.73,0.99,1.25],[4.1,0.02,0.15,0.28,0.41,0.54,0.67,0.8,0.93,1.19],[4.3,0.08,0.21,0.34,0.47,0.6,0.73,0.86,1.25],[4.5,0.02,0.15,0.28,0.41,0.54,0.67,0.93,1.06,1.28],[4.7,0.08,0.21,0.34,0.47,0.6,0.73,0.86,0.99,1.12,1.25],[4.9,0.02,0.15,0.28,0.41,0.54,0.67,0.8,0.93,1.06,1.28],[5.1,0.08,0.21,0.34,0.47,0.6,0.73,0.99,1.12],[5.3,0.02,0.15,0.28,0.41,0.54,0.67,0.8,1.06,1.19],[5.5,0.08,0.21,0.34,0.47,0.6,0.73,0.86,0.99,1.12],[5.7,0.02,0.15,0.28,0.41,0.54,0.67,0.8,0.93,1.06,1.19],[5.9,0.08,0.21,0.34,0.47,0.6,0.73,0.86,0.99,1.12,1.25],[6.1,0.02,0.15,0.28,0.41,0.54,0.67,0.8,0.93,1.06,1.19],[6.3,0.08,0.21,0.34,0.47,0.6,0.73,0.86,0.99,1.12,1.25],[6.5,0.02,0.15,0.28,0.41,0.67,0.8,1.06,1.19,1.28],[6.7,0.08,0.21,0.34,0.73,0.99,1.12,1.25],[6.9,0.02,0.15,0.28,0.41,0.54,0.8,0.93,1.06],[7.1,0.08,0.21,0.34,0.6,0.86,0.99,1.25],[7.3,0.02,0.15,0.28,0.41,0.67,1.19],[7.5,0.05,0.21,0.34,0.6,1.25]];

const fromColumns = cols => cols.flatMap(([x, ...ys]) => ys.map(y => [x, y]));

const panels = [
  { title: 'Oo-C/Oo-4h', titleX: 790, letter: 'A', letterX: 8, left: 213, width: 1130, xMax: 16.2, yMin: -0.8, yMax: 20.8, xTicks: xTicksA, yTicks: yTicksAC, xGap: 108, xPad: [0, 0, 0, 6], yGap: 110,
    blue: blueSparse4h.concat(fromColumns(blueDense4h)), red: redSparse4h.concat(fromColumns(redDense4h), redOutlierA), yellow: fromColumns(yellow4h) },
  { title: 'Oo-C/Oo-12h', titleX: 2413, letter: 'B', letterX: 1613, left: 1818, width: 1129, xMax: 12.96, yMin: -0.6, yMax: 15.6, xTicks: xTicksB, yTicks: yTicksB, xGap: 102, xPad: [0, 0, 0, 10], yGap: 117,
    blue: blueSparse12h, red: redSparse12h, yellow: yellowSparse12h.concat(fromColumns(yellowDense12h)) },
  { title: 'Oo-C/Oo-24h', titleX: 4014, letter: 'C', letterX: 3213, left: 3422, width: 1130, xMax: 21.6, yMin: -0.8, yMax: 20.8, xTicks: xTicksC, yTicks: yTicksAC, xGap: 102, xPad: [0, 16, 0, 0], yGap: 109,
    blue: blueSparse4h.concat(fromColumns(blueDense4h)), red: redSparse4h.concat(fromColumns(redDense4h), redOutlierC), yellow: fromColumns(yellow4h) }
];

const serif = '"Liberation Serif", "Times New Roman", serif';
const sans = '"Liberation Sans", Arial, sans-serif';
const axisColor = '#666';

const cutoffLines = {
  silent: true,
  symbol: 'none',
  label: { show: false },
  lineStyle: { color: '#aaa', width: 2.5, type: [8, 6] },
  data: foldCutoffs.map(v => ({ xAxis: v })).concat([{ yAxis: pCutoff }])
};

function dots(color, data, i, z, extra) {
  return Object.assign({
    type: 'scatter', xAxisIndex: i, yAxisIndex: i, data: data,
    symbolSize: 11, z: z, silent: true,
    itemStyle: { color: color, opacity: 1 }
  }, extra);
}

// the browser may give us a narrower window than the 4562 wide figure, squeeze it so all three panels show
const dom = document.getElementById('chart');
dom.style.transform = 'scale(' + window.innerWidth / 4562 + ',' + window.innerHeight / 1365 + ')';

const chart = echarts.init(dom, null, { renderer: 'canvas' });
chart.setOption({
  animation: false,
  backgroundColor: '#fff',
  title: panels.map(p => ({
    text: p.title, left: p.titleX, top: 72, padding: 0, textAlign: 'center',
    textStyle: { fontFamily: serif, fontWeight: 'bold', fontSize: 60, color: '#000' }
  })).concat(panels.map(p => ({
    text: p.letter, left: p.letterX, top: 11, padding: 0,
    textStyle: { fontFamily: sans, fontWeight: 'bold', fontSize: 80, color: '#000' }
  }))),
  grid: panels.map(p => ({
    left: p.left, top: 163, width: p.width, height: 1031, containLabel: false,
    show: true, borderColor: axisColor, borderWidth: 3, backgroundColor: '#fff'
  })),
  xAxis: panels.map((p, i) => ({
    type: 'value', gridIndex: i, min: -p.xMax, max: p.xMax,
    name: 'log2(Fold Change)', nameLocation: 'middle', nameGap: p.xGap,
    nameTextStyle: { fontFamily: serif, fontWeight: 'bold', fontSize: 60, color: '#000', padding: p.xPad },
    axisLine: { show: true, onZero: false, lineStyle: { color: axisColor, width: 3 } },
    axisTick: { show: true, length: 17, customValues: p.xTicks, lineStyle: { color: '#555', width: 2.5 } },
    axisLabel: { show: true, customValues: p.xTicks, margin: 43, fontFamily: sans, fontSize: 27, color: '#222', hideOverlap: false },
    splitLine: { show: false }
  })),
  yAxis: panels.map((p, i) => ({
    type: 'value', gridIndex: i, min: p.yMin, max: p.yMax,
    name: '-log10(p-value)', nameLocation: 'middle', nameGap: p.yGap, nameRotate: 90,
    nameTextStyle: { fontFamily: serif, fontWeight: 'bold', fontSize: 60, color: '#000', padding: [0, 32, 0, 0] },
    axisLine: { show: true, onZero: false, lineStyle: { color: axisColor, width: 3 } },
    axisTick: { show: true, length: 17, customValues: p.yTicks, lineStyle: { color: '#555', width: 2.5 } },
    axisLabel: { show: true, customValues: p.yTicks, rotate: 90, margin: 34, fontFamily: sans, fontSize: 27, color: '#222', hideOverlap: false },
    splitLine: { show: false }
  })),
  series: panels.flatMap((p, i) => [
    dots('#2a2aee', p.blue, i, 2),
    dots('#ff0000', p.red, i, 2),
    dots('#ffff00', p.yellow, i, 3, { markLine: cutoffLines })
  ])
});
</script>
</body>
</html>
